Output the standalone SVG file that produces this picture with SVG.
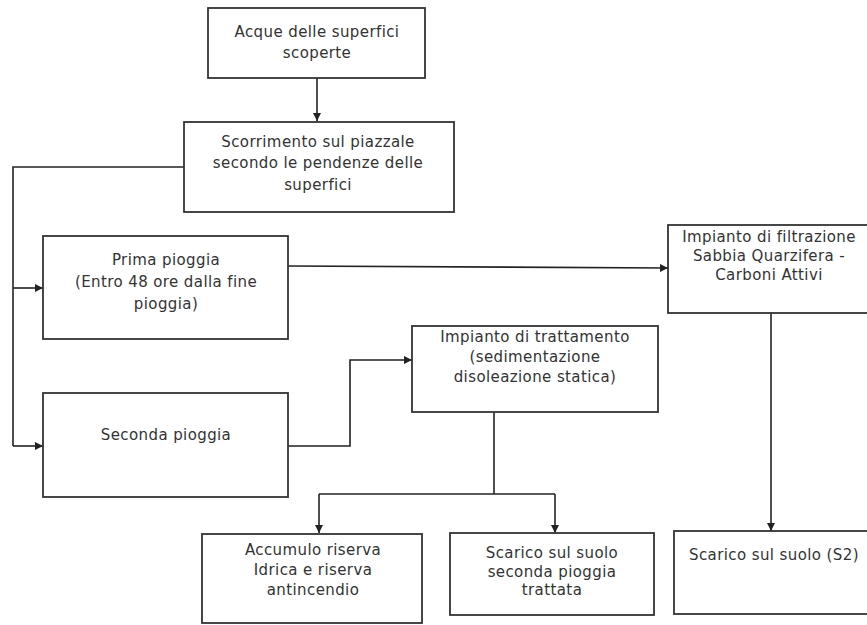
<svg xmlns="http://www.w3.org/2000/svg" width="867" height="625" viewBox="0 0 867 625">
<style>
.box{fill:#fff;stroke:#333;stroke-width:1.8}
.lbl{font-family:"DejaVu Sans",sans-serif;font-size:15px;letter-spacing:0.4px;fill:#333;text-anchor:middle}
.c{fill:none;stroke:#222;stroke-width:1.6}
</style>
<defs>
<marker id="ah" markerUnits="userSpaceOnUse" markerWidth="10" markerHeight="10" refX="8" refY="4" orient="auto">
<path d="M0,0 L8,4 L0,8 Z" fill="#222"/>
</marker>
</defs>
<rect width="867" height="625" fill="#fff"/>
<g id="connectors">
<path class="c" d="M317,78 V121" marker-end="url(#ah)"/>
<path class="c" d="M184,167 H13 V446"/>
<path class="c" d="M13,288 H43" marker-end="url(#ah)"/>
<path class="c" d="M13,446 H43" marker-end="url(#ah)"/>
<path class="c" d="M288,266 L668,268" marker-end="url(#ah)"/>
<path class="c" d="M288,446 H350 V360 H412" marker-end="url(#ah)"/>
<path class="c" d="M494,412 V494"/>
<path class="c" d="M319,494 H555"/>
<path class="c" d="M319,494 V533" marker-end="url(#ah)"/>
<path class="c" d="M555,494 V533" marker-end="url(#ah)"/>
<path class="c" d="M771,313 V531" marker-end="url(#ah)"/>
</g>
<g id="n1">
<rect class="box" x="208" y="8" width="217" height="70"/>
<text class="lbl" x="317" y="37">Acque delle superfici</text>
<text class="lbl" x="317" y="58">scoperte</text>
</g>
<g id="n2">
<rect class="box" x="184" y="122" width="270" height="90"/>
<text class="lbl" x="318" y="147">Scorrimento sul piazzale</text>
<text class="lbl" x="318" y="168">secondo le pendenze delle</text>
<text class="lbl" x="318" y="190">superfici</text>
</g>
<g id="n3">
<rect class="box" x="43" y="236" width="245" height="103"/>
<text class="lbl" x="166" y="265">Prima pioggia</text>
<text class="lbl" x="166" y="287">(Entro 48 ore dalla fine</text>
<text class="lbl" x="166" y="309">pioggia)</text>
</g>
<g id="n4">
<rect class="box" x="43" y="393" width="245" height="104"/>
<text class="lbl" x="166" y="440">Seconda pioggia</text>
</g>
<g id="n5">
<rect class="box" x="412" y="326" width="246" height="86"/>
<text class="lbl" x="535" y="342">Impianto di trattamento</text>
<text class="lbl" x="535" y="362">(sedimentazione</text>
<text class="lbl" x="535" y="382">disoleazione statica)</text>
</g>
<g id="n6">
<rect class="box" x="668" y="225" width="202" height="88"/>
<text class="lbl" x="769" y="242">Impianto di filtrazione</text>
<text class="lbl" x="769" y="261">Sabbia Quarzifera -</text>
<text class="lbl" x="769" y="280">Carboni Attivi</text>
</g>
<g id="n7">
<rect class="box" x="202" y="534" width="220" height="89"/>
<text class="lbl" x="313" y="555">Accumulo riserva</text>
<text class="lbl" x="313" y="575">Idrica e riserva</text>
<text class="lbl" x="313" y="595">antincendio</text>
</g>
<g id="n8">
<rect class="box" x="450" y="533" width="204" height="82"/>
<text class="lbl" x="552" y="558">Scarico sul suolo</text>
<text class="lbl" x="552" y="577">seconda pioggia</text>
<text class="lbl" x="552" y="595">trattata</text>
</g>
<g id="n9">
<rect class="box" x="674" y="531" width="200" height="83"/>
<text class="lbl" x="774" y="560">Scarico sul suolo (S2)</text>
</g>
</svg>
